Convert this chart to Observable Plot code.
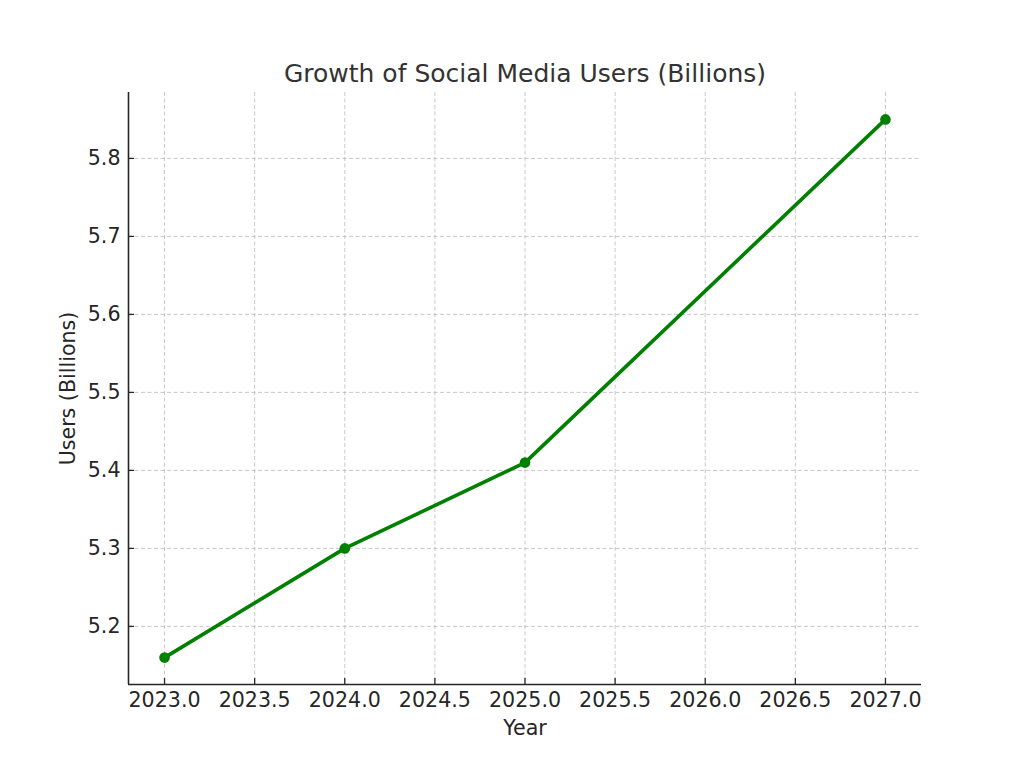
<!DOCTYPE html>
<html>
<head>
<meta charset="utf-8">
<script src="https://cdn.jsdelivr.net/npm/d3@7"></script>
<script src="https://cdn.jsdelivr.net/npm/@observablehq/plot@0.6"></script>
<style>
  html, body { margin: 0; padding: 0; background: #fff; }
  #chart { width: 1024px; height: 768px; }
  svg { display: block; }
</style>
</head>
<body>
<div id="chart"></div>
<script>
const years = [2023, 2024, 2025, 2027];
const users = [5.16, 5.30, 5.41, 5.85];
const xTicks = [2023, 2023.5, 2024, 2024.5, 2025, 2025.5, 2026, 2026.5, 2027];
const yTicks = [5.2, 5.3, 5.4, 5.5, 5.6, 5.7, 5.8];
const titleText = "Growth of Social Media Users (Billions)";
const xLabel = "Year";
const yLabel = "Users (Billions)";

const data = years.map((y, i) => ({year: y, users: users[i]}));

const W = 1024, H = 768;
const mL = 128, mR = 103, mT = 92, mB = 84;
const innerW = W - mL - mR, innerH = H - mT - mB;

const xPad = (d3.max(years) - d3.min(years)) * 0.05;
const yPad = (d3.max(users) - d3.min(users)) * 0.05;
const xDomain = [d3.min(years) - xPad, d3.max(years) + xPad];
const yDomain = [d3.min(users) - yPad, d3.max(users) + yPad];

const fmt = d3.format(".1f");
const font = "DejaVu Sans, sans-serif";
const tickColor = "#262626";

const chart = Plot.plot({
  width: W,
  height: H,
  marginLeft: mL,
  marginRight: mR,
  marginTop: mT,
  marginBottom: mB,
  style: {fontFamily: font, background: "#fff", overflow: "visible"},
  x: {domain: xDomain},
  y: {domain: yDomain},
  marks: [
    Plot.gridX(xTicks, {stroke: "#b0b0b0", strokeOpacity: 0.7, strokeWidth: 1, strokeDasharray: "4,2.5"}),
    Plot.gridY(yTicks, {stroke: "#b0b0b0", strokeOpacity: 0.7, strokeWidth: 1, strokeDasharray: "4,2.5"}),
    Plot.axisX(xTicks, {tickSize: 0, tickPadding: 8, tickFormat: fmt, fontSize: 20.6, fill: tickColor, label: null}),
    Plot.axisY(yTicks, {tickSize: 0, tickPadding: 8, tickFormat: fmt, fontSize: 20.6, fill: tickColor, label: null}),
    Plot.tickX(xTicks, {x: d => d, insetTop: innerH - 6, stroke: tickColor, strokeWidth: 1.3}),
    Plot.tickY(yTicks, {y: d => d, insetRight: innerW - 6, stroke: tickColor, strokeWidth: 1.3}),
    Plot.ruleX([xDomain[0]], {stroke: tickColor, strokeWidth: 1.6}),
    Plot.ruleY([yDomain[0]], {stroke: tickColor, strokeWidth: 1.6}),
    Plot.line(data, {x: "year", y: "users", stroke: "#008000", strokeWidth: 3.6}),
    Plot.dot(data, {x: "year", y: "users", fill: "#008000", r: 5.3}),
    Plot.text([titleText], {frameAnchor: "top", lineAnchor: "middle", textAnchor: "middle", dy: -18.5, fontSize: 25, fill: "#333333", fontFamily: font}),
    Plot.text([xLabel], {frameAnchor: "bottom", lineAnchor: "middle", textAnchor: "middle", dy: 44.4, fontSize: 20.6, fill: tickColor, fontFamily: font}),
    Plot.text([yLabel], {frameAnchor: "left", lineAnchor: "middle", textAnchor: "middle", dx: -59.6, rotate: -90, fontSize: 20.6, fill: tickColor, fontFamily: font})
  ]
});
document.getElementById("chart").appendChild(chart);
</script>
</body>
</html>
